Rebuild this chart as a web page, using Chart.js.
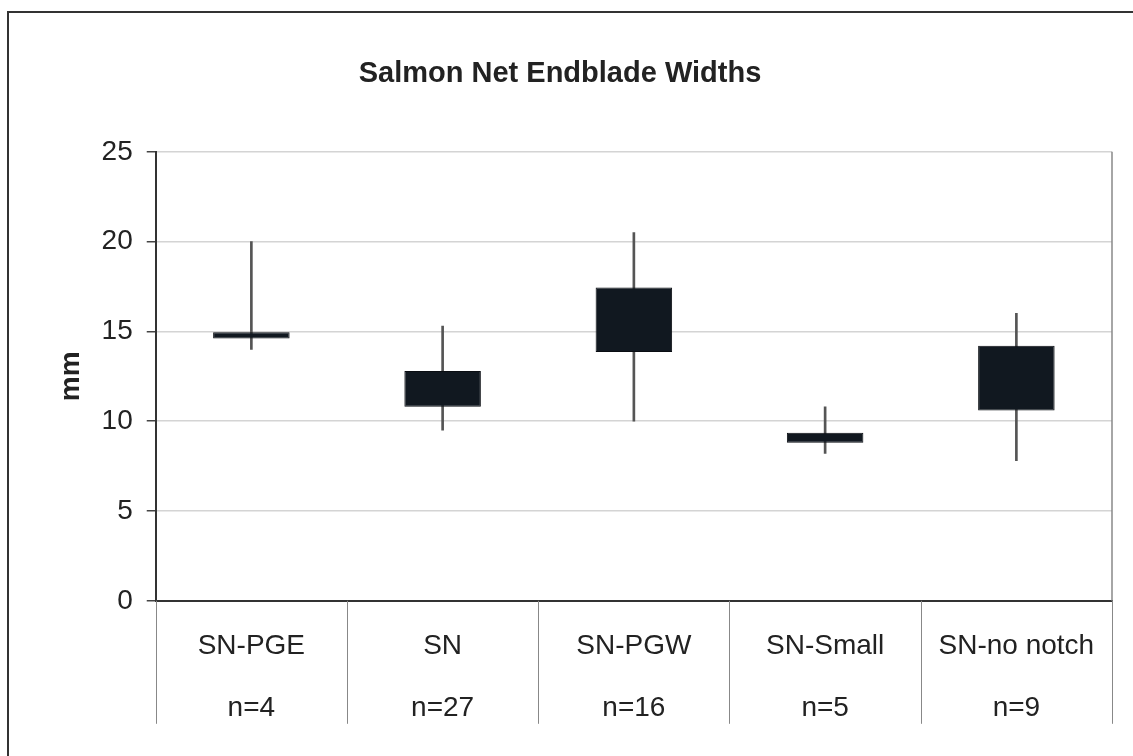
<!doctype html>
<html>
<head>
<meta charset="utf-8" />
<title>Salmon Net Endblade Widths</title>
<script src="https://cdn.jsdelivr.net/npm/chart.js@4.4.0/dist/chart.umd.min.js"></script>
<style>
  html, body { margin: 0; padding: 0; background: #fff; overflow: hidden; }
  #frame { position: absolute; left: 7px; top: 11px; width: 2000px; height: 2000px;
           border-left: 2px solid #333; border-top: 2px solid #333; }
  #wrap { position: absolute; left: 0; top: 0; width: 1133px; height: 756px; }
</style>
</head>
<body>
<div id="frame"></div>
<div id="wrap"><canvas id="chart1"></canvas></div>
<script>
// values (mm)
var categories = ['SN-PGE', 'SN', 'SN-PGW', 'SN-Small', 'SN-no notch'];
var counts = ['n=4', 'n=27', 'n=16', 'n=5', 'n=9'];
var minVals = [14.0, 9.5, 10.0, 8.2, 7.8];
var maxVals = [20.0, 15.3, 20.5, 10.8, 16.0];
var boxLow = [14.6, 10.8, 13.85, 8.8, 10.6];
var boxHigh = [14.95, 12.8, 17.45, 9.35, 14.2];
var yTicks = [0, 5, 10, 15, 20, 25];

var labels = categories.map(function(c, i) { return [c, counts[i]]; });
var font = "'Liberation Sans', Arial, sans-serif";

// right edge of the plot area + category separators under the axis
var plotEdge = {
  id: 'plotEdge',
  afterDraw: function(chart) {
    var a = chart.chartArea, ctx = chart.ctx, x = chart.scales.x;
    ctx.save();
    ctx.strokeStyle = '#888';
    ctx.lineWidth = 1.5;
    ctx.beginPath();
    ctx.moveTo(a.right, a.top);
    ctx.lineTo(a.right, a.bottom);
    ctx.stroke();
    ctx.lineWidth = 1;
    var n = x.ticks.length;
    for (var i = 0; i <= n; i++) {
      var px;
      if (i === 0) px = a.left;
      else if (i === n) px = a.right;
      else px = (x.getPixelForTick(i - 1) + x.getPixelForTick(i)) / 2;
      px = Math.round(px) + 0.5;
      ctx.beginPath();
      ctx.moveTo(px, a.bottom);
      ctx.lineTo(px, a.bottom + 123);
      ctx.stroke();
    }
    ctx.restore();
  }
};

var chart1 = new Chart('chart1', {
  type: 'bar',
  data: {
    labels: labels,
    datasets: [{
      label: 'box',
      data: boxLow.map(function(v, i) { return [v, boxHigh[i]]; }),
      backgroundColor: '#111820',
      borderColor: '#0a0d12',
      borderWidth: 1,
      borderSkipped: false,
      grouped: false,
      barPercentage: 0.4,
      categoryPercentage: 1,
      order: 0
    }, {
      label: 'range',
      data: minVals.map(function(v, i) { return [v, maxVals[i]]; }),
      backgroundColor: '#555',
      barThickness: 2,
      grouped: false,
      order: 1
    }]
  },
  options: {
    responsive: true,
    maintainAspectRatio: false,
    animation: false,
    layout: { padding: { left: 8, top: 12, right: 21, bottom: 2 } },
    plugins: {
      legend: { display: false },
      tooltip: { enabled: false },
      title: {
        display: true,
        text: 'Salmon Net Endblade Widths',
        color: '#222',
        font: { family: font, size: 29, weight: 'bold', lineHeight: 1.2 },
        padding: { top: 45, bottom: 60 }
      }
    },
    scales: {
      x: {
        offset: true,
        grid: { offset: true, display: false, drawOnChartArea: false, drawTicks: false },
        border: { display: true, color: '#333', width: 2 },
        ticks: {
          color: '#222',
          padding: 15,
          maxRotation: 0,
          autoSkip: false,
          font: { family: font, size: 28, lineHeight: 2.2 }
        }
      },
      y: {
        min: 0,
        max: 25,
        afterBuildTicks: function(scale) { scale.ticks = yTicks.map(function(v) { return { value: v }; }); },
        grid: { color: '#d4d4d4', lineWidth: 1.5, tickLength: 9, tickColor: '#444' },
        border: { display: true, color: '#333', width: 2 },
        ticks: { color: '#222', padding: 14, font: { family: font, size: 28 } },
        title: {
          display: true,
          text: 'mm',
          color: '#222',
          font: { family: font, size: 28, weight: 'bold', lineHeight: 1.2 },
          padding: { top: 46, bottom: 0 }
        }
      }
    }
  },
  plugins: [plotEdge]
});
</script>
</body>
</html>
